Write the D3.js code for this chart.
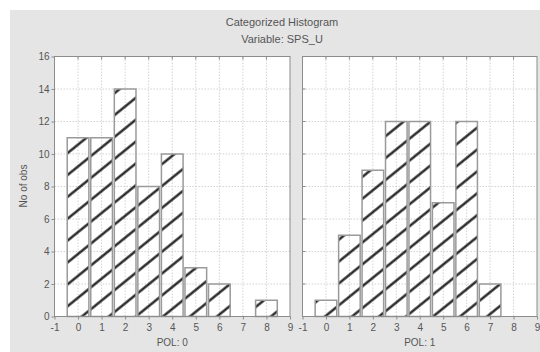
<!DOCTYPE html>
<html><head><meta charset="utf-8">
<script src="https://cdn.jsdelivr.net/npm/d3@7"></script>
<style>
html,body{margin:0;padding:0;background:#fff;}
text{font-family:"Liberation Sans",Arial,sans-serif;fill:#555;}
</style></head>
<body><svg id="c" width="540" height="352"></svg>
<script>
const title = "Categorized Histogram";
const subtitle = "Variable: SPS_U";
const yLabel = "No of obs";
const bins = [0,1,2,3,4,5,6,7,8];
const pol0 = [11,11,14,8,10,3,2,0,1];
const pol1 = [1,5,9,12,12,7,12,2,0];
const panelLabels = ["POL: 0","POL: 1"];
const xTicks = [-1,0,1,2,3,4,5,6,7,8,9];
const yTicks = [0,2,4,6,8,10,12,14,16];

const svg = d3.select("#c");
svg.append("rect").attr("x",10).attr("y",10).attr("width",530).attr("height",342).attr("fill","#e5e5e5");

const defs = svg.append("defs");
const pat = defs.append("pattern").attr("id","hatch").attr("patternUnits","userSpaceOnUse")
  .attr("width",10).attr("height",17).attr("patternTransform","rotate(-39)");
pat.append("line").attr("x1",-1).attr("x2",11).attr("y1",8.5).attr("y2",8.5)
  .attr("stroke","#1a1a1a").attr("stroke-width",2.3);

svg.append("text").attr("x",282).attr("y",26).attr("text-anchor","middle").attr("font-size",11).text(title);
svg.append("text").attr("x",282).attr("y",43).attr("text-anchor","middle").attr("font-size",11).text(subtitle);

const plotTop = 56.5, plotBottom = 316.5;
const y = d3.scaleLinear().domain([0,16]).range([plotBottom, plotTop]);

const panels = [
  {x0:54.5, x1:290, data:pol0, label:panelLabels[0], left:true},
  {x0:302.5, x1:537, data:pol1, label:panelLabels[1], left:false}
];

panels.forEach(p => {
  const x = d3.scaleLinear().domain([-1,9]).range([p.x0, p.x1]);
  const g = svg.append("g");
  g.append("rect").attr("x",p.x0).attr("y",plotTop).attr("width",p.x1-p.x0).attr("height",plotBottom-plotTop).attr("fill","#fff");
  g.selectAll(".vg").data(xTicks.slice(1,-1)).join("line")
    .attr("x1",d=>x(d)).attr("x2",d=>x(d)).attr("y1",plotTop).attr("y2",plotBottom)
    .attr("stroke","#c8c8c8").attr("stroke-width",0.8).attr("stroke-dasharray","1.5,1.5");
  g.selectAll(".hg").data(yTicks.slice(1,-1)).join("line")
    .attr("x1",p.x0).attr("x2",p.x1).attr("y1",d=>y(d)).attr("y2",d=>y(d))
    .attr("stroke","#c8c8c8").attr("stroke-width",0.8).attr("stroke-dasharray","1.5,1.5");
  const bw = (x(1)-x(0))*0.92;
  g.selectAll(".bar").data(bins.map((b,i)=>({b,v:p.data[i]})).filter(d=>d.v>0)).join("rect")
    .attr("x",d=>x(d.b)-bw/2).attr("width",bw)
    .attr("y",d=>y(d.v)).attr("height",d=>y(0)-y(d.v))
    .attr("fill","url(#hatch)").attr("stroke","#9a9a9a").attr("stroke-width",1.5);
  g.append("rect").attr("x",p.x0).attr("y",plotTop).attr("width",p.x1-p.x0).attr("height",plotBottom-plotTop)
    .attr("fill","none").attr("stroke","#8c8c8c").attr("stroke-width",1);
  g.selectAll(".tt").data(xTicks.slice(1,-1)).join("line")
    .attr("x1",d=>x(d)).attr("x2",d=>x(d)).attr("y1",plotTop).attr("y2",plotTop+3)
    .attr("stroke","#8c8c8c");
  const xa = d3.axisBottom(x).tickValues(xTicks).tickSize(3).tickPadding(4).tickFormat(d=>String(d));
  const ax = g.append("g").attr("transform",`translate(0,${plotBottom})`).call(xa);
  ax.select(".domain").remove();
  ax.selectAll("line").attr("stroke","#8c8c8c");
  ax.selectAll("text").attr("font-size",10).attr("fill","#555");
  if (p.left) {
    const ya = d3.axisLeft(y).tickValues(yTicks).tickSize(3).tickPadding(2).tickFormat(d=>String(d));
    const ay = g.append("g").attr("transform",`translate(${p.x0},0)`).call(ya);
    ay.select(".domain").remove();
    ay.selectAll("line").attr("stroke","#8c8c8c");
    ay.selectAll("text").attr("font-size",10).attr("fill","#555");
  } else {
    g.selectAll(".lt").data(yTicks.slice(1,-1)).join("line")
      .attr("x1",p.x0).attr("x2",p.x0+3).attr("y1",d=>y(d)).attr("y2",d=>y(d)).attr("stroke","#8c8c8c");
  }
  g.append("text").attr("x",(p.x0+p.x1)/2).attr("y",346).attr("text-anchor","middle").attr("font-size",10).text(p.label);
});

svg.append("text").attr("transform","translate(27,186) rotate(-90)").attr("text-anchor","middle").attr("font-size",10).text(yLabel);
</script></body></html>
